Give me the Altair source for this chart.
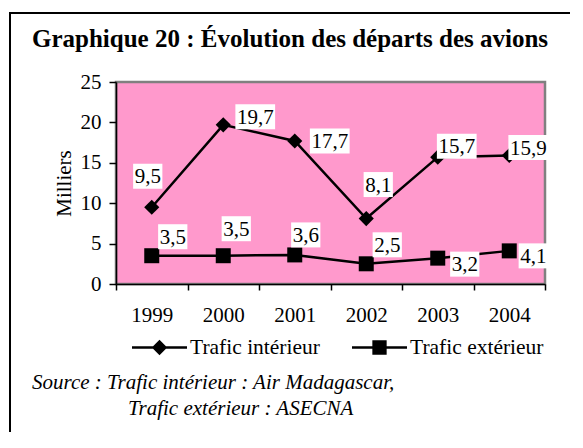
import altair as alt
import pandas as pd

# ---- data ----
years = ["1999", "2000", "2001", "2002", "2003", "2004"]
interieur = [9.5, 19.7, 17.7, 8.1, 15.7, 15.9]
exterieur = [3.5, 3.5, 3.6, 2.5, 3.2, 4.1]
series_names = ["Trafic intérieur", "Trafic extérieur"]

# label placement (pixel offsets from each point)
int_label_dx = [-4, 32, 35, 12, 19, 19]
int_label_dy = [-31, -8, 0, -34, -11, -8]
ext_label_dx = [21, 13, 11, 21, 27, 24]
ext_label_dy = [-19, -27, -20, -19, 6, 5]

title_text = "Graphique 20 : Évolution des départs des avions"
source_line1 = "Source : Trafic intérieur : Air Madagascar,"
source_line2 = "Trafic extérieur : ASECNA"

FONT = "Liberation Serif"
FS = 21
PINK = "#FF99CC"

rows = []
for i, yr in enumerate(years):
    rows.append(dict(year=yr, value=interieur[i], series=series_names[0],
                     dx=int_label_dx[i], dy=int_label_dy[i]))
for i, yr in enumerate(years):
    rows.append(dict(year=yr, value=exterieur[i], series=series_names[1],
                     dx=ext_label_dx[i], dy=ext_label_dy[i]))
df = pd.DataFrame(rows)
df["label"] = df["value"].map(lambda v: f"{v:.1f}".replace(".", ","))

W, H = 429, 202

x_enc = alt.X(
    "year:N",
    sort=years,
    scale=alt.Scale(type="band", paddingInner=0, paddingOuter=0),
    axis=alt.Axis(
        title=None, labelAngle=0, labelFont=FONT, labelFontSize=FS,
        labelColor="black", tickSize=6, tickColor="black", tickWidth=1.5,
        tickBand="extent", domainColor="black", domainWidth=1.5,
        labelPadding=14, grid=False,
    ),
)
y_enc = alt.Y(
    "value:Q",
    scale=alt.Scale(domain=[0, 25], nice=False, zero=True),
    axis=alt.Axis(
        values=[0, 5, 10, 15, 20, 25], title="Milliers", titleFont=FONT,
        titleFontSize=FS, titleFontWeight="normal", titleColor="black",
        titlePadding=6, labelFont=FONT, labelFontSize=FS, labelColor="black",
        tickSize=7, tickColor="black", tickWidth=1.5, domainColor="black",
        domainWidth=1.5, labelPadding=8, grid=False,
    ),
)

base = alt.Chart(df).encode(x=x_enc, y=y_enc)

one = pd.DataFrame({"k": [0]})

# frame around the whole figure
frame = alt.Chart(one).mark_rect(
    fill=None, stroke="black", strokeWidth=2
).encode(x=alt.value(-106), x2=alt.value(490), y=alt.value(-69), y2=alt.value(420))

lines = base.mark_line(color="black", strokeWidth=2.5).encode(detail="series:N")

pts_int = base.transform_filter(
    alt.datum.series == series_names[0]
).mark_point(shape="diamond", filled=True, color="black", size=230, opacity=1)

pts_ext = base.transform_filter(
    alt.datum.series == series_names[1]
).mark_point(shape="square", filled=True, color="black", size=225, opacity=1)

label_layers = []
for _, r in df.iterrows():
    n = len(r["label"]) - 1
    w = 0.5 * FS * n + 0.25 * FS + 3
    h = 25.0
    ratio = h / w
    path = f"M-1,-{ratio:.4f}L1,-{ratio:.4f}L1,{ratio:.4f}L-1,{ratio:.4f}Z"
    sub = base.transform_filter(
        (alt.datum.series == r["series"]) & (alt.datum.year == r["year"])
    )
    box = sub.mark_point(
        shape=path, filled=True, color="white", size=w * w, opacity=1,
        xOffset=float(r["dx"]), yOffset=float(r["dy"]),
    )
    txt = sub.mark_text(
        font=FONT, fontSize=FS, color="black", baseline="middle", align="center",
        dx=float(r["dx"]), dy=float(r["dy"]) + 1,
    ).encode(text="label:N")
    label_layers += [box, txt]

# legend only layer (marks pushed off-screen); line drawn as a thin filled bar
t = 0.046
leg_diamond = (f"M-1,-{t}L1,-{t}L1,{t}L-1,{t}Z"
               "M0,-0.28L0.28,0L0,0.28L-0.28,0Z")
leg_square = (f"M-1,-{t}L1,-{t}L1,{t}L-1,{t}Z"
              "M-0.26,-0.26L0.26,-0.26L0.26,0.26L-0.26,0.26Z")
legend_layer = alt.Chart(df).mark_point(
    filled=True, color="black", opacity=1
).encode(
    x=alt.value(-3000), y=alt.value(-3000),
    shape=alt.Shape(
        "series:N",
        scale=alt.Scale(domain=series_names, range=[leg_diamond, leg_square]),
        legend=alt.Legend(
            title=None, orient="none", legendX=16, legendY=238,
            direction="horizontal", labelFont=FONT, labelFontSize=21.5,
            labelColor="black", symbolSize=3025, symbolStrokeWidth=0,
            symbolFillColor="black", symbolOpacity=1, columnPadding=32,
            labelOffset=3,
        ),
    ),
)

title_layer = alt.Chart(pd.DataFrame({"t": [title_text]})).mark_text(
    font=FONT, fontSize=25, fontWeight="bold", color="black",
    align="left", baseline="alphabetic",
).encode(text="t:N", x=alt.value(-84), y=alt.value(-35))

src1 = alt.Chart(pd.DataFrame({"t": [source_line1]})).mark_text(
    font=FONT, fontSize=FS, fontStyle="italic", color="black",
    align="left", baseline="alphabetic",
).encode(text="t:N", x=alt.value(-84), y=alt.value(307))

src2 = alt.Chart(pd.DataFrame({"t": [source_line2]})).mark_text(
    font=FONT, fontSize=FS, fontStyle="italic", color="black",
    align="left", baseline="alphabetic",
).encode(text="t:N", x=alt.value(12), y=alt.value(333))

chart = alt.layer(
    frame, lines, pts_int, pts_ext, *label_layers, legend_layer,
    title_layer, src1, src2,
).properties(
    width=W, height=H,
    autosize=alt.AutoSizeParams(type="none"),
    padding={"left": 108, "top": 74, "right": 25, "bottom": 148},
    background="white",
).configure(
    font=FONT,
).configure_view(
    fill=PINK, stroke="#808080", strokeWidth=2.5,
)

chart.save("out.html", embed_options={"renderer": "svg", "actions": False})
